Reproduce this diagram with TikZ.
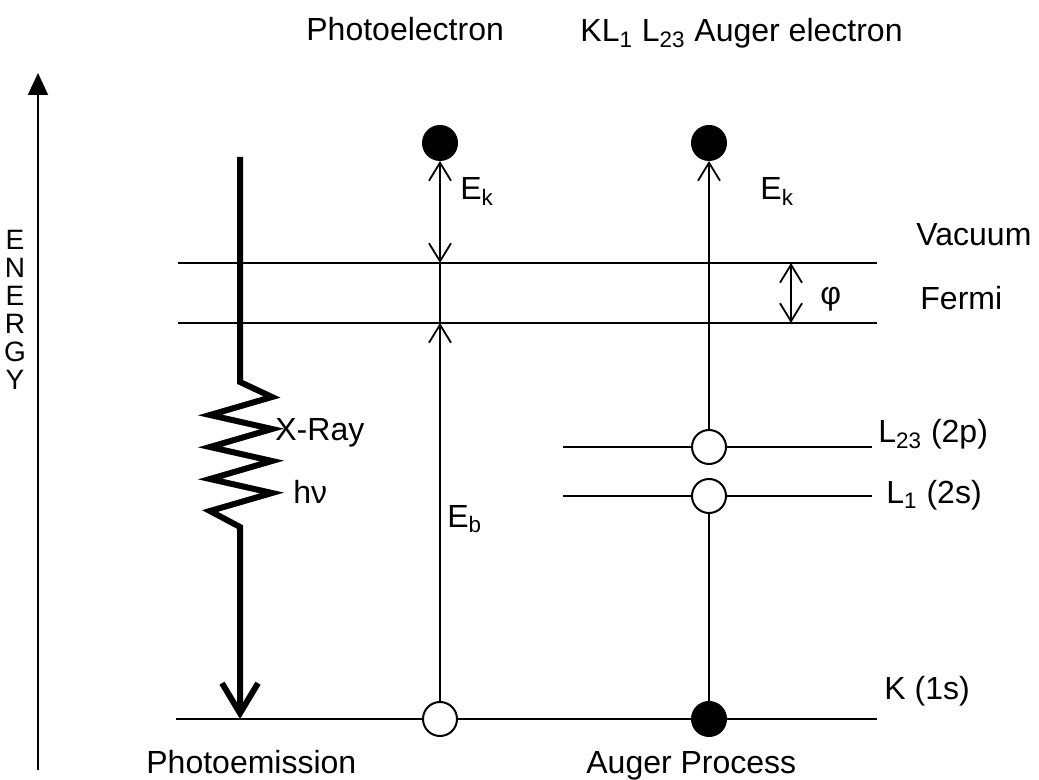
\documentclass[tikz,border=0pt]{standalone}
\usepackage{fontspec}
\setmainfont{Liberation Sans}
\usepackage{tikz}
\usetikzlibrary{arrows.meta}

\begin{document}
\begin{tikzpicture}[x=0.5pt,y=-0.5pt,
  font=\fontsize{16}{19}\selectfont,
  level/.style={line width=1.1pt},
  elec/.style={circle,draw,line width=1pt,minimum size=17pt,inner sep=0pt,fill=black},
  hole/.style={circle,draw,line width=1pt,minimum size=17pt,inner sep=0pt,fill=white},
  trans/.style={line width=0.9pt},
  barb/.tip={Straight Barb[length=9pt,width=11pt]},
  xray/.style={line width=3pt,line join=miter},
  lbl/.style={anchor=base west,inner sep=0pt}]
\useasboundingbox (0,0) rectangle (1039,780);
% energy axis
\coordinate (ebot) at (38,770);
\coordinate (etop) at (38,73);
\draw[line width=1pt,-{Triangle[length=11pt,width=10pt]}] (ebot) -- (etop);
\foreach \c [count=\i from 0] in {E,N,E,R,G,Y}{
\node[font=\fontsize{14}{16}\selectfont,inner sep=0pt] (en\i) at (15,240+28*\i) {\c};
}
% levels
\draw[level] (178,263) -- (877,263); % vacuum
\draw[level] (178,323) -- (877,323); % fermi
\draw[level] (563,447) -- (872,447); % L23
\draw[level] (563,496) -- (872,496); % L1
\draw[level] (176,719) -- (877,719); % K
% photoemission
\node[elec] (pe) at (440,143) {};
\node[hole] (pk) at (440,719) {};
\coordinate (pvac) at (440,263);
\coordinate (pfer) at (440,323);
\draw[trans,barb-barb] (pe) -- (pvac);
\draw[trans] (pvac) -- (pfer);
\draw[trans,barb-] (pfer) -- (pk);
% auger process
\node[elec] (ae) at (709,143) {};
\node[hole] (al23) at (709,447) {};
\node[hole] (al1) at (709,496) {};
\node[elec] (ak) at (709,719) {};
\draw[trans,-barb] (al23) -- (ae);
\draw[trans] (al1) -- (ak);
% work function
\coordinate (phitop) at (791,263);
\coordinate (phibot) at (791,323);
\draw[trans,barb-barb] (phitop) -- (phibot);
% x-ray
\coordinate (xtop) at (240,157);
\coordinate (xbot) at (240,719);
\draw[xray,-{Straight Barb[length=15pt,width=18pt]}] (xtop) -- (240,382)
  \foreach \i in {0,...,3}{ -- (272,397+32*\i) -- (210,415+32*\i)} -- (240,527) -- (xbot);
% labels
\node[lbl] (ptitle) at (306,41) {Photoelectron};
\node[lbl] (atitle) at (580,42) {KL\textsubscript{1} L\textsubscript{23} Auger electron};
\node[lbl] (pek) at (460,200) {E\textsubscript{k}};
\node[lbl] (aek) at (760,200) {E\textsubscript{k}};
\node[lbl] (peb) at (447,527) {E\textsubscript{b}};
\node[lbl] (phi) at (820,305) {φ};
\node[lbl] (xlbl) at (275,441) {X-Ray};
\node[lbl] (hnu) at (293,503) {hν};
\node[lbl] (vac) at (916,246) {Vacuum};
\node[lbl] (fer) at (920,310) {Fermi};
\node[lbl] (l23) at (878,443) {L\textsubscript{23} (2p)};
\node[lbl] (l1) at (886,503) {L\textsubscript{1} (2s)};
\node[lbl] (k1s) at (884,699) {K (1s)};
\node[lbl] (pem) at (146,773) {Photoemission};
\node[lbl] (apr) at (586,773) {Auger Process};
\end{tikzpicture}
\end{document}
